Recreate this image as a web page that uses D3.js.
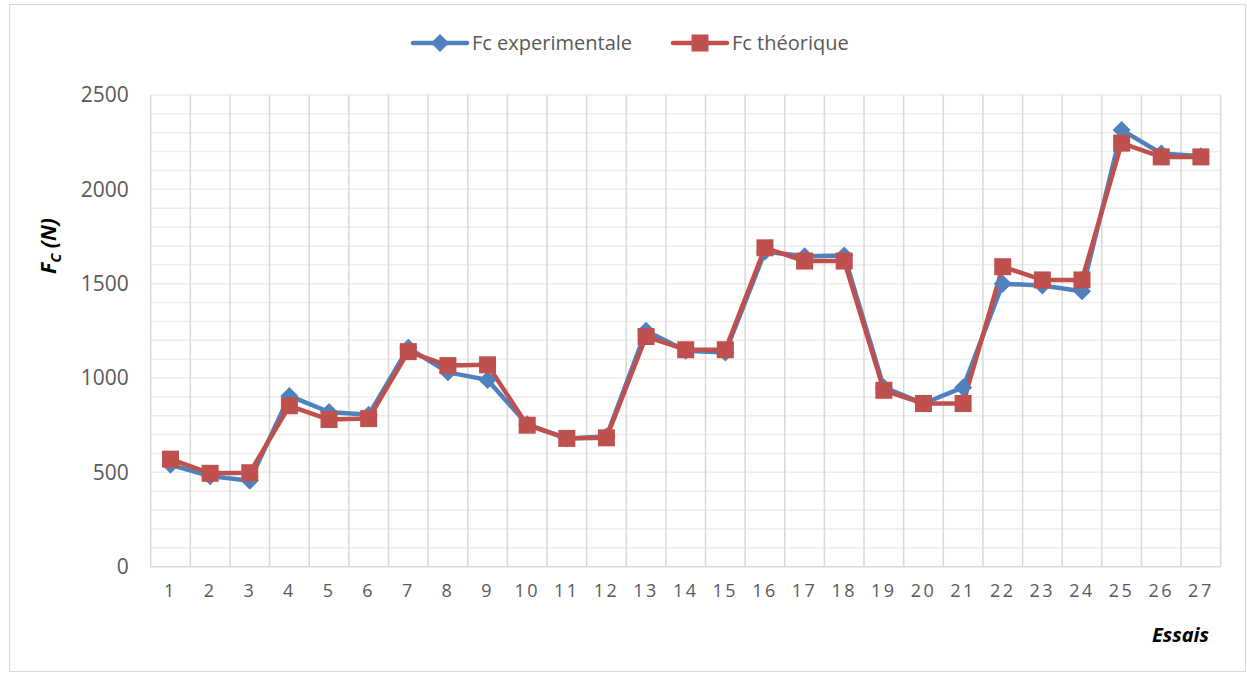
<!DOCTYPE html>
<html>
<head>
<meta charset="utf-8">
<script src="https://cdn.jsdelivr.net/npm/d3@7"></script>
<style>
  html, body { margin: 0; padding: 0; background: #ffffff; }
  svg { display: block; font-family: "Open Sans", "Liberation Sans", sans-serif; }
</style>
</head>
<body>
<svg id="chart" width="1247" height="673"></svg>
<script>
// Trials (essais) 1..27
const essais = ["1","2","3","4","5","6","7","8","9","10","11","12","13","14","15","16","17","18","19","20","21","22","23","24","25","26","27"];

// Cutting force Fc (N), measured
const fcExperimentale = [540, 480, 455, 905, 820, 805, 1160, 1030, 990, 755, 680, 690, 1250, 1145, 1135, 1670, 1645, 1650, 950, 865, 950, 1500, 1490, 1460, 2315, 2190, 2175];

// Cutting force Fc (N), model
const fcTheorique = [570, 495, 498, 853, 780, 785, 1140, 1066, 1070, 750, 680, 683, 1220, 1150, 1150, 1690, 1620, 1620, 935, 865, 865, 1590, 1520, 1520, 2245, 2172, 2172];

const yTicks = [0, 500, 1000, 1500, 2000, 2500];

const seriesNames = ["Fc experimentale", "Fc théorique"];
const colors = ["#4F81BD", "#C0504D"];

const svg = d3.select("#chart");

// outer chart frame
svg.append("rect")
  .attr("x", 9.5).attr("y", 4.5)
  .attr("width", 1236).attr("height", 667)
  .attr("fill", "#ffffff")
  .attr("stroke", "#d9d9d9").attr("stroke-width", 1);

const plot = { left: 150.7, right: 1220.7, top: 95, bottom: 566.7 };

const x = d3.scaleBand().domain(essais).range([plot.left, plot.right]).padding(0);
const y = d3.scaleLinear().domain([0, 2500]).range([plot.bottom, plot.top]);
const cx = d => x(d) + x.bandwidth() / 2;

// horizontal gridlines every 100 N
const g = svg.append("g");
g.selectAll("line.h")
  .data(d3.range(100, 2501, 100))
  .join("line")
  .attr("class", "h")
  .attr("x1", plot.left).attr("x2", plot.right)
  .attr("y1", d => y(d)).attr("y2", d => y(d))
  .attr("stroke", "#ededed").attr("stroke-width", 1.5);

// vertical gridlines at category boundaries
const bounds = essais.map(d => x(d)).concat([plot.right]);
g.selectAll("line.v")
  .data(bounds)
  .join("line")
  .attr("class", "v")
  .attr("x1", d => d).attr("x2", d => d)
  .attr("y1", plot.top).attr("y2", plot.bottom)
  .attr("stroke", "#d9d9d9").attr("stroke-width", 1.5);

// category axis line
g.append("line")
  .attr("x1", plot.left).attr("x2", plot.right)
  .attr("y1", plot.bottom).attr("y2", plot.bottom)
  .attr("stroke", "#d9d9d9").attr("stroke-width", 1.5);

// y axis labels
const yAxis = d3.axisLeft(y).tickValues(yTicks).tickFormat(d3.format("d")).tickSize(0).tickPadding(22);
svg.append("g")
  .attr("transform", `translate(${plot.left},0)`)
  .call(yAxis)
  .call(s => s.select(".domain").remove())
  .call(s => s.selectAll("text")
    .attr("fill", "#595959")
    .style("font-size", "21px")
    .style("font-family", "'Open Sans', sans-serif"));

// x axis labels
const xAxis = d3.axisBottom(x).tickSize(0).tickPadding(18);
svg.append("g")
  .attr("transform", `translate(0,${plot.bottom})`)
  .call(xAxis)
  .call(s => s.select(".domain").remove())
  .call(s => s.selectAll("text")
    .attr("fill", "#595959")
    .style("font-size", "18px")
    .style("letter-spacing", "2.5px")
    .style("font-family", "'Open Sans', sans-serif"));

// series
const series = [fcExperimentale, fcTheorique];
const line = d3.line().x((d, i) => cx(essais[i])).y(d => y(d));

series.forEach((vals, si) => {
  svg.append("path")
    .datum(vals)
    .attr("d", line)
    .attr("fill", "none")
    .attr("stroke", colors[si])
    .attr("stroke-width", 4.5)
    .attr("stroke-linejoin", "round")
    .attr("stroke-linecap", "round");
});

function drawMarker(sel, kind, color) {
  if (kind === 0) {
    sel.append("path")
      .attr("d", "M0,-9L9,0L0,9L-9,0Z")
      .attr("fill", color);
  } else {
    sel.append("rect")
      .attr("x", -8.5).attr("y", -8.5)
      .attr("width", 17).attr("height", 17)
      .attr("fill", color);
  }
}

series.forEach((vals, si) => {
  svg.append("g").selectAll("g")
    .data(vals)
    .join("g")
    .attr("transform", (d, i) => `translate(${cx(essais[i])},${y(d)})`)
    .each(function () { drawMarker(d3.select(this), si, colors[si]); });
});

// legend
const legendItems = [
  { name: seriesNames[0], x0: 413, color: colors[0], kind: 0 },
  { name: seriesNames[1], x0: 673, color: colors[1], kind: 1 }
];
const legendY = 43;
legendItems.forEach(it => {
  const lg = svg.append("g");
  lg.append("line")
    .attr("x1", it.x0).attr("x2", it.x0 + 54)
    .attr("y1", legendY).attr("y2", legendY)
    .attr("stroke", it.color).attr("stroke-width", 4.5)
    .attr("stroke-linecap", "round");
  drawMarker(lg.append("g").attr("transform", `translate(${it.x0 + 27},${legendY})`), it.kind, it.color);
  lg.append("text")
    .attr("x", it.x0 + 59).attr("y", legendY)
    .attr("dy", "0.36em")
    .attr("fill", "#595959")
    .style("font-size", "20px")
    .text(it.name);
});

// axis titles
const yTitle = svg.append("text")
  .attr("transform", "translate(56,246) rotate(-90)")
  .attr("text-anchor", "middle")
  .attr("fill", "#000000")
  .style("font-size", "21px")
  .style("font-weight", "bold")
  .style("font-style", "italic");
yTitle.append("tspan").text("F");
yTitle.append("tspan").attr("dy", 5).style("font-size", "15px").text("C");
yTitle.append("tspan").attr("dy", -5).text(" (N)");

svg.append("text")
  .attr("x", 1209).attr("y", 642)
  .attr("text-anchor", "end")
  .attr("fill", "#000000")
  .style("font-size", "20px")
  .style("font-weight", "bold")
  .style("font-style", "italic")
  .text("Essais");
</script>
</body>
</html>
